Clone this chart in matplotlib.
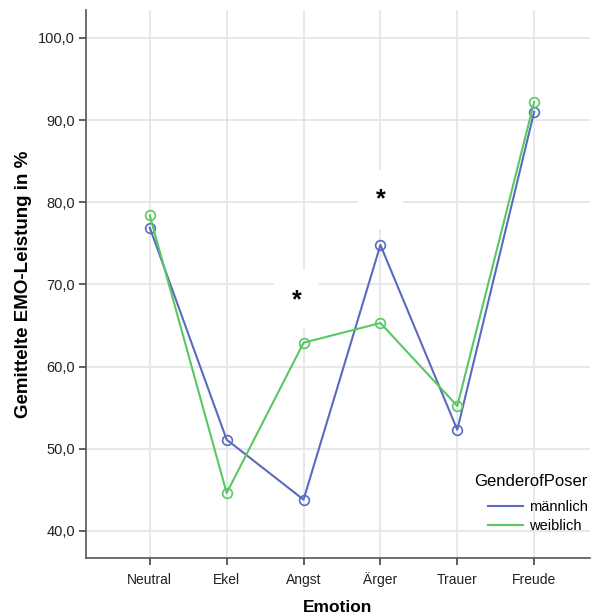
import matplotlib
matplotlib.use("Agg")
import matplotlib.pyplot as plt

emotions = ["Neutral", "Ekel", "Angst", "Ärger", "Trauer", "Freude"]
maennlich = [76.9, 51.1, 43.8, 74.8, 52.3, 91.0]
weiblich = [78.4, 44.6, 62.9, 65.3, 55.2, 92.2]
yticks = [40, 50, 60, 70, 80, 90, 100]
ytick_labels = ["40,0", "50,0", "60,0", "70,0", "80,0", "90,0", "100,0"]
sig_pos = [2, 3]
sig_y = [68.1, 80.3]

plt.rcParams['font.family'] = ['Liberation Sans', 'DejaVu Sans']

fig = plt.figure(figsize=(5.91, 6.16), dpi=100)
ax = fig.add_axes([0.1455, 0.0942, 0.852, 0.8896])

blue = "#5a6bbd"
green = "#58c862"
x = list(range(len(emotions)))

ax.plot(x, maennlich, color=blue, lw=1.5, marker='o', ms=7, mfc='none', mec=blue, mew=1.2, label="männlich", zorder=3)
ax.plot(x, weiblich, color=green, lw=1.5, marker='o', ms=7, mfc='none', mec=green, mew=1.2, label="weiblich", zorder=3)

for xp, yp in zip(sig_pos, sig_y):
    ax.text(xp - (0.09 if xp == 2 else 0.0), yp, "*", ha='center', va='center', fontsize=18, color='black',
            fontweight='bold',
            bbox=dict(boxstyle='square,pad=0.7', fc='white', ec='none'), zorder=2)

ax.set_xlim(-0.83, 5.72)
ax.set_ylim(36.7, 103.4)
ax.set_xticks(x)
ax.set_xticklabels(emotions, fontsize=10, color='#222222')
ax.set_yticks(yticks)
ax.set_yticklabels(ytick_labels, fontsize=10.5, color='#222222')
ax.grid(True, color='#e6e6e6', lw=1.3, zorder=0)
ax.set_axisbelow(True)
for s in ['top', 'right']:
    ax.spines[s].set_visible(False)
for s in ['left', 'bottom']:
    ax.spines[s].set_color('#555555')
    ax.spines[s].set_linewidth(1.2)
ax.tick_params(axis='both', direction='out', length=5, width=1.2, color='#444444', pad=3)
ax.tick_params(axis='x', pad=14)
for lbl in ax.get_xticklabels():
    lbl.set_verticalalignment('baseline')

ax.set_ylabel("Gemittelte EMO-Leistung in %", fontsize=13.5, fontweight='bold', labelpad=4)
ax.set_xlabel("Emotion", fontsize=12.5, fontweight='bold', labelpad=9)

leg = ax.legend(title="GenderofPoser", loc='lower left', bbox_to_anchor=(0.745, 0.022),
                frameon=False, fontsize=10.5, title_fontsize=12, handlelength=2.4,
                handletextpad=0.4, labelspacing=0.3, markerscale=0)
for h in leg.legend_handles:
    h.set_marker('')
leg._legend_box.align = "right"
leg._legend_box.sep = 8

fig.savefig("out.png", dpi=100)
